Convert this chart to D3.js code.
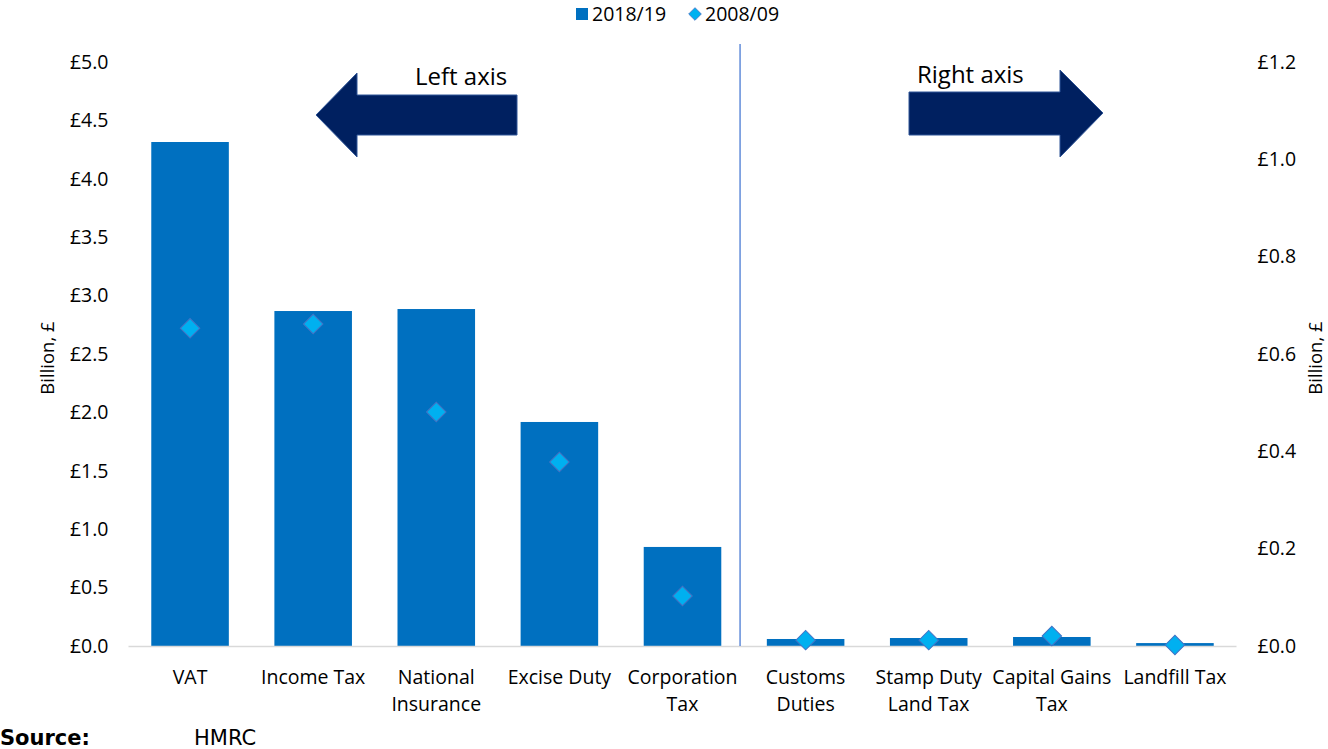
<!DOCTYPE html>
<html><head><meta charset="utf-8">
<script src="https://cdn.jsdelivr.net/npm/d3@7"></script>
<style>
body{margin:0;background:#fff;}
</style></head>
<body><svg id="c" width="1328" height="749" font-family="Open Sans, Noto Sans, sans-serif"></svg>
<script>
const leftCategories = ["VAT","Income Tax","National Insurance","Excise Duty","Corporation Tax"];
const rightCategories = ["Customs Duties","Stamp Duty Land Tax","Capital Gains Tax","Landfill Tax"];
const categoryLines = [["VAT"],["Income Tax"],["National","Insurance"],["Excise Duty"],["Corporation","Tax"],["Customs","Duties"],["Stamp Duty","Land Tax"],["Capital Gains","Tax"],["Landfill Tax"]];
const left2018 = [4.315, 2.868, 2.885, 1.918, 0.848];
const left2008 = [2.72, 2.757, 2.003, 1.575, 0.428];
const right2018 = [0.0144, 0.0164, 0.0185, 0.006];
const right2008 = [0.012, 0.012, 0.0205, 0.002];
const leftTicks = [0,0.5,1,1.5,2,2.5,3,3.5,4,4.5,5];
const rightTicks = [0,0.2,0.4,0.6,0.8,1.0,1.2];
const seriesNames = ["2018/19","2008/09"];

const svg = d3.select("#c");
const M = {l:128.5, r:1236.5, t:62, b:646};
const cats = leftCategories.concat(rightCategories);
const x = d3.scaleBand().domain(cats).range([M.l, M.r]).paddingInner(0.37).paddingOuter(0.185);
const yL = d3.scaleLinear().domain([0,5]).range([M.b, M.t]);
const yR = d3.scaleLinear().domain([0,1.2]).range([M.b, M.t]);
const barColor = "#0070C0", dotColor = "#00B0F0", dotStroke = "#4472C4";
const FS = 19.5;

// bars
const data = leftCategories.map((c,i)=>({c, v:left2018[i], d:left2008[i], y:yL}))
  .concat(rightCategories.map((c,i)=>({c, v:right2018[i], d:right2008[i], y:yR})));
svg.append("g").selectAll("rect").data(data).join("rect")
  .attr("x", d=>x(d.c)).attr("width", x.bandwidth())
  .attr("y", d=>d.y(d.v)).attr("height", d=>M.b - d.y(d.v))
  .attr("fill", barColor);

// x axis line
svg.append("line").attr("x1",M.l).attr("x2",M.r).attr("y1",M.b+0.5).attr("y2",M.b+0.5)
  .attr("stroke","#d9d9d9").attr("stroke-width",1.5);

// diamonds
const diamond = d3.symbol().type(d3.symbolSquare).size(190);
svg.append("g").selectAll("path").data(data).join("path")
  .attr("d", diamond())
  .attr("transform", d=>`translate(${x(d.c)+x.bandwidth()/2},${d.y(d.d)}) rotate(45)`)
  .attr("fill", dotColor).attr("stroke", dotStroke).attr("stroke-width",1);

// divider
const divX = x(rightCategories[0]) - x.step()*0.37/2 - 4;
svg.append("line").attr("x1",divX).attr("x2",divX).attr("y1",44).attr("y2",M.b)
  .attr("stroke","#3a6fd0").attr("stroke-width",1.2);

// left axis
const gL = svg.append("g").attr("transform",`translate(${M.l},0)`)
  .call(d3.axisLeft(yL).tickValues(leftTicks).tickSize(0).tickPadding(20).tickFormat(d=>"£"+d.toFixed(1)));
gL.select(".domain").remove();
gL.selectAll("text").attr("font-size",FS).attr("font-family","Open Sans").attr("fill","#000");

const gR = svg.append("g").attr("transform",`translate(${M.r},0)`)
  .call(d3.axisRight(yR).tickValues(rightTicks).tickSize(0).tickPadding(21).tickFormat(d=>"£"+d.toFixed(1)));
gR.select(".domain").remove();
gR.selectAll("text").attr("font-size",FS).attr("font-family","Open Sans").attr("fill","#000");

// axis titles
svg.append("text").attr("transform","translate(54,358) rotate(-90)").attr("text-anchor","middle")
  .attr("font-size",18.5).text("Billion, £");
svg.append("text").attr("transform","translate(1322,358) rotate(-90)").attr("text-anchor","middle")
  .attr("font-size",18.5).text("Billion, £");

// category labels
const lab = svg.append("g").selectAll("text").data(cats).join("text")
  .attr("text-anchor","middle").attr("font-size",FS)
  .attr("x", d=>x(d)+x.bandwidth()/2).attr("y",684);
lab.each(function(d,i){
  const t = d3.select(this);
  categoryLines[i].forEach((s,j)=>t.append("tspan").attr("x", x(d)+x.bandwidth()/2).attr("dy", j?27:0).text(s));
});

// legend
const lg = svg.append("g");
lg.append("rect").attr("x",576).attr("y",8).attr("width",12).attr("height",12).attr("fill",barColor);
lg.append("text").attr("x",592).attr("y",21).attr("font-size",FS).text(seriesNames[0]);
lg.append("path").attr("d", d3.symbol().type(d3.symbolSquare).size(80)())
  .attr("transform","translate(695,14) rotate(45)").attr("fill",dotColor).attr("stroke",dotStroke).attr("stroke-width",0.8);
lg.append("text").attr("x",705).attr("y",21).attr("font-size",FS).text(seriesNames[1]);

// arrows
const navy = "#002060";
svg.append("path").attr("d","M316,115 L357,73 L357,95 L517,95 L517,135 L357,135 L357,157 Z")
  .attr("fill",navy).attr("stroke","#2f5597").attr("stroke-width",1);
svg.append("path").attr("d","M1103,113 L1060,70 L1060,92 L909,92 L909,135 L1060,135 L1060,157 Z")
  .attr("fill",navy).attr("stroke","#2f5597").attr("stroke-width",1);
svg.append("text").attr("x",415).attr("y",85).attr("font-size",24).text("Left axis");
svg.append("text").attr("x",917).attr("y",83).attr("font-size",24).text("Right axis");

// source
svg.append("text").attr("x",0).attr("y",745).attr("font-family","DejaVu Sans").attr("font-weight","bold").attr("font-size",21).text("Source:");
svg.append("text").attr("x",194).attr("y",745).attr("font-family","DejaVu Sans").attr("font-size",21).text("HMRC");
</script></body></html>
